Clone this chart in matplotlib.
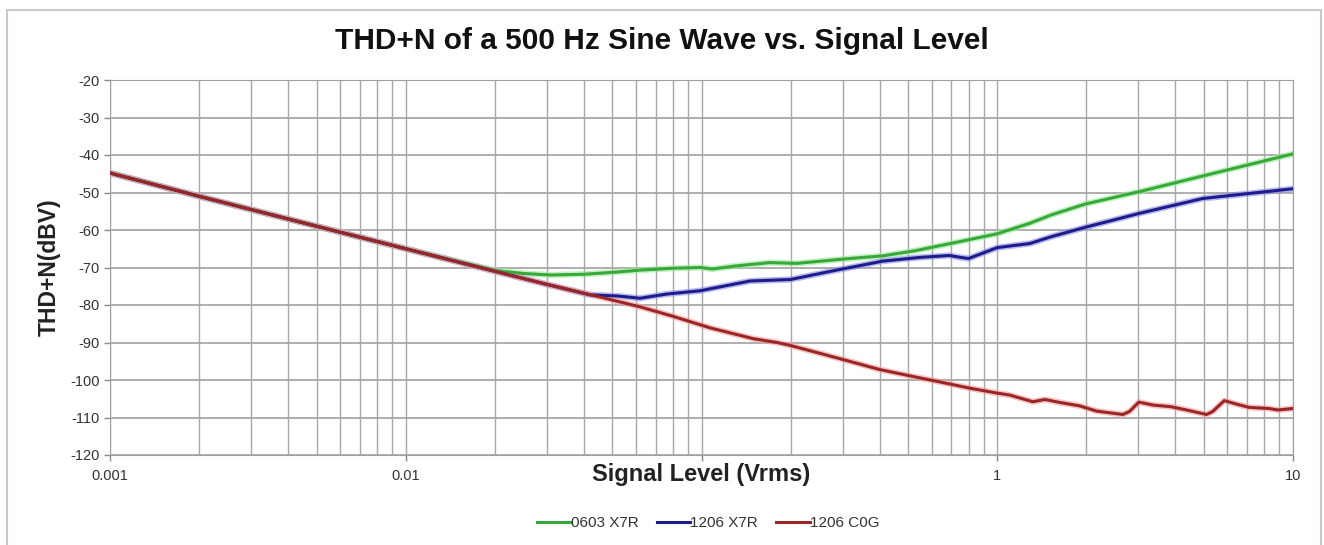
import numpy as np
import matplotlib.pyplot as plt
from matplotlib.patches import Rectangle
from matplotlib.ticker import LogLocator, FixedLocator, NullFormatter

plt.rcParams['font.family'] = ['Liberation Sans', 'DejaVu Sans']
plt.rcParams['axes.unicode_minus'] = False

# signal level (Vrms) and THD+N (dBV)
green_x = [0.001, 0.002, 0.005, 0.01, 0.02, 0.025, 0.031, 0.04, 0.05, 0.062, 0.08, 0.099,
           0.109, 0.13, 0.17, 0.21, 0.317, 0.41, 0.53, 0.79, 1.0, 1.29, 1.52, 1.98, 3.01,
           4.95, 10]
green_y = [-44.8, -51, -59, -65, -70.8, -71.6, -72, -71.8, -71.3, -70.7, -70.2, -70,
           -70.4, -69.6, -68.7, -68.9, -67.6, -66.9, -65.5, -62.7, -61, -58.2, -56, -53.1,
           -49.8, -45.6, -39.7]

blue_x = [0.001, 0.002, 0.005, 0.01, 0.02, 0.03, 0.042, 0.052, 0.062, 0.076, 0.099, 0.146,
          0.2, 0.278, 0.41, 0.55, 0.69, 0.75, 0.8, 1.0, 1.29, 1.52, 1.98, 3.01, 4.95, 10]
blue_y = [-44.8, -51, -59, -65, -71, -74.5, -77.3, -77.6, -78.2, -77.1, -76.2, -73.6,
          -73.2, -70.9, -68.3, -67.3, -66.8, -67.3, -67.6, -64.7, -63.6, -61.8, -59.3,
          -55.6, -51.6, -49]

red_x = [0.001, 0.002, 0.005, 0.01, 0.02, 0.03, 0.045, 0.062, 0.08, 0.107, 0.15, 0.18, 0.2,
         0.287, 0.4, 0.5, 0.656, 0.81, 1.0, 1.1, 1.32, 1.45, 1.63, 1.9, 2.17, 2.66, 2.8,
         3.01, 3.37, 3.85, 4.37, 5.1, 5.35, 5.86, 6.42, 7.1, 8.3, 8.9, 10]
red_y = [-44.8, -51, -59, -65, -71, -74.5, -77.8, -80.5, -83, -86.1, -89, -90, -90.8,
         -94.1, -97.2, -98.8, -100.7, -102.2, -103.5, -104, -105.8, -105.2, -106, -106.9,
         -108.3, -109.2, -108.4, -105.9, -106.7, -107.1, -108, -109.2, -108.4, -105.5,
         -106.4, -107.3, -107.6, -108, -107.6]

# the 0.1 label is hidden behind the axis title in the original
x_ticks = [0.001, 0.01, 0.1, 1, 10]
x_tick_labels = ['0.001', '0.01', '', '1', '10']

labels = ['0603 X7R', '1206 X7R', '1206 C0G']
colors = ['#38a838', '#1c1c8c', '#9a2626']
glows = ['#9be89b', '#8c8ce0', '#f0a0a0']

fig = plt.figure(figsize=(13.24, 5.45), dpi=100)
ax = fig.add_axes([110 / 1324, 1 - 455 / 545, 1183 / 1324, 375 / 545])

series = [(green_x, green_y), (blue_x, blue_y), (red_x, red_y)]
for (xs, ys), lab, c, g in zip(series, labels, colors, glows):
    ax.plot(xs, ys, color=g, lw=4.5, alpha=0.6, solid_capstyle='round', zorder=3)
    ax.plot(xs, ys, color=c, lw=2.2, label=lab, zorder=4)

ax.set_xscale('log')
ax.set_xlim(0.001, 10)
ax.set_ylim(-120, -20)
ax.xaxis.set_major_locator(FixedLocator(x_ticks))
ax.set_xticklabels(x_tick_labels)
ax.xaxis.set_minor_locator(LogLocator(base=10, subs=np.arange(2, 10), numticks=50))
ax.xaxis.set_minor_formatter(NullFormatter())
ax.set_yticks(np.arange(-120, -19, 10))

ax.grid(True, which='both', axis='x', color='#a8a8a8', lw=1.0)
ax.grid(True, which='major', axis='y', color='#a8a8a8', lw=1.3)
ax.tick_params(axis='both', which='major', labelsize=10.5, colors='#888888',
               labelcolor='#333333', length=4, width=1)
ax.tick_params(axis='x', which='minor', length=0)
ax.tick_params(axis='x', which='major', pad=6)
for s in ax.spines.values():
    s.set_color('#a0a0a0')

fig.text(0.5, 1 - 41 / 545, 'THD+N of a 500 Hz Sine Wave vs. Signal Level',
         ha='center', va='center', fontsize=21.5, fontweight='bold', color='#111111')
ax.set_xlabel('Signal Level (Vrms)', fontsize=17, fontweight='bold', color='#222222',
              va='center')
ax.xaxis.set_label_coords(0.5, (455 - 475) / 375)
ax.set_ylabel('THD+N(dBV)', fontsize=16.5, fontweight='bold', color='#222222', labelpad=7)

fig.legend(loc='center', bbox_to_anchor=(0.535, 1 - 523 / 545), ncol=3, frameon=False,
           fontsize=11, handlelength=2.2, handletextpad=0.0, columnspacing=1.2,
           labelcolor='#333333')

fig.patches.append(Rectangle((7 / 1324, -0.01), 1314 / 1324, 1 - 10 / 545 + 0.01,
                             transform=fig.transFigure, fill=False, ec='#c8c8c8', lw=1.5))

fig.savefig('out.png', dpi=100)
